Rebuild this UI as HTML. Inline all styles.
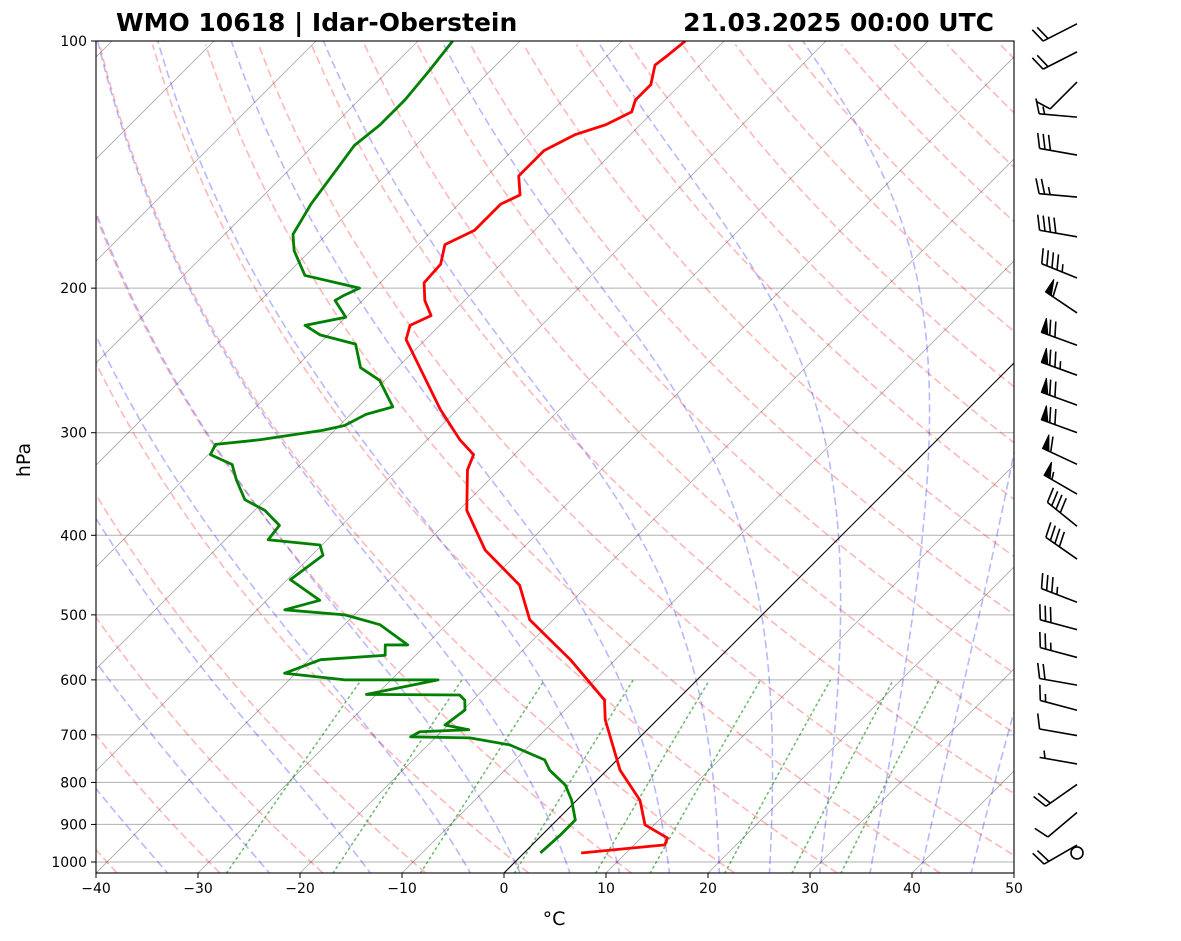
<!DOCTYPE html>
<html><head><meta charset="utf-8"><title>Skew-T WMO 10618</title>
<style>
html,body{margin:0;padding:0;background:#fff;}
svg{display:block;font-family:"DejaVu Sans","Liberation Sans",sans-serif;}
</style></head>
<body>
<svg id="chart" xmlns="http://www.w3.org/2000/svg" width="1181" height="941" viewBox="0 0 1181 941">
  <defs><clipPath id="plotclip"><rect x="96" y="41" width="918" height="832"/></clipPath></defs>
  <rect x="0" y="0" width="1181" height="941" fill="#fff"/>
  <g id="bg-lines" clip-path="url(#plotclip)"></g>
  <g id="profiles" clip-path="url(#plotclip)"></g>
  <rect x="96" y="41" width="918" height="832" fill="none" stroke="#000" stroke-width="1.1"/>
  <g id="axes"></g>
  <g id="barbs"></g>
  <text x="116" y="31" font-size="25" font-weight="bold">WMO 10618 | Idar-Oberstein</text>
  <text x="994" y="31" font-size="25" font-weight="bold" text-anchor="end">21.03.2025 00:00 UTC</text>
  <text x="30" y="460" font-size="19" text-anchor="middle" transform="rotate(-90 30 460)">hPa</text>
  <text x="554" y="925" font-size="19" text-anchor="middle">°C</text>
</svg>
<script>
// ---- data ----
const tempP = [975,953,935,901,841,773,671,635,567,507,460,417,373,333,319,306,281,231,222,216,207,197,187,177,170,158,154,146,136,130,126.5,122,118,113,107,104,100];
const tempT = [5.6,13.0,12.6,9.1,6.2,1.3,-5.1,-7.1,-14.4,-22.3,-26.7,-33.5,-39.2,-43.1,-44.0,-46.8,-51.7,-61.9,-62.9,-61.8,-63.9,-65.7,-65.9,-67.4,-65.9,-65.9,-64.9,-66.9,-66.9,-65.4,-63.4,-62.1,-62.9,-62.9,-64.4,-64.1,-63.8];
const dewP = [975,927,889,841,806,773,751,720,706,704,694,690,681,653,635,626,625,600,600,589,567,560,544,544,514,500,493,480,453,423,411,405,389,373,362,343,328,319,310,306,298,294,285,279,259,250,234,228,222,217,207,204,200,193,180,172,158,141.6,134,126.5,118,108.5,100];
const dewT = [1.6,1.8,1.8,-0.5,-2.6,-5.6,-7.1,-12,-16.6,-22.5,-22.1,-17.5,-20.3,-19.8,-20.8,-21.8,-31,-25.4,-34.5,-41.1,-38.9,-33,-34,-31.8,-36.5,-40.9,-47.3,-44.8,-49.7,-48.9,-50.2,-55.8,-56.1,-59,-62,-64.7,-66.7,-69.8,-70.3,-66.4,-61.2,-59.5,-58.5,-56.6,-60.5,-63.6,-66.4,-70.8,-73.2,-70,-72.7,-72.3,-71.5,-78.1,-81.6,-83.3,-84.5,-85.5,-86,-85.5,-85.5,-86,-86.6];
const windP = [95.3,103.1,112.2,123.8,137.7,154.9,173.2,194.4,214.4,234.7,255.3,277.7,299.9,327.8,356.3,390,427.6,482.7,521.2,563.4,608.9,653.4,701.5,759.6,804.5,870.5,953.6,975];
const windSpd = [20,20,10,15,30,25,40,45,60,70,75,70,70,60,55,40,40,35,30,25,20,15,10,5,20,10,20,0];
const windDir = [243,243,225,275,280,275,280,292,304,290,290,290,290,295,300,309,305,291,285,285,280,285,280,280,235,230,240,0];
const pTicks = [100,200,300,400,500,600,700,800,900,1000];
const tTicks = [-40,-30,-20,-10,0,10,20,30,40,50];
const mixRatios = [0.0004,0.001,0.002,0.004,0.007,0.01,0.016,0.024,0.032];
const moistT0 = [-45,-35,-25,-15,-5,0,5,10,15,20,25,30,35,40,45];

// ---- axis functions ----
const NS = "http://www.w3.org/2000/svg";
const PBOT = 1031;
function Y(p){ return 41 + 821*Math.log10(p/100); }
function X(t,p){ return 96 + (t+40)*10.2 + (873 - Y(p)); }
function mk(tag, attrs, parent){
  const e = document.createElementNS(NS, tag);
  for (const k in attrs) e.setAttribute(k, attrs[k]);
  parent.appendChild(e); return e;
}
function pathFrom(pts){ return pts.map((q,i)=>(i?'L':'M')+q[0].toFixed(2)+' '+q[1].toFixed(2)).join(''); }
const bg = document.getElementById('bg-lines');
const prof = document.getElementById('profiles');
const ax = document.getElementById('axes');
const bb = document.getElementById('barbs');

pTicks.forEach(p=>{
  const l = mk('line',{x1:96,x2:1014,y1:Y(p),y2:Y(p),stroke:'#b0b0b0','stroke-width':1},bg);
  
  
});
for (let t=-130; t<=50; t+=10){
  const l = mk('line',{x1:X(t,PBOT),y1:Y(PBOT),x2:X(t,100),y2:Y(100),stroke:'#000','stroke-opacity':0.35,'stroke-width':0.8},bg);
  
  
}
for (let th=-40; th<=200; th+=10){
  const pts=[];
  for (let p=PBOT; p>=100; p-=10){ const T=(th+273.15)*Math.pow(p/1000,0.2857)-273.15; pts.push([X(T,p),Y(p)]); }
  const l = mk('path',{d:pathFrom(pts),fill:'none',stroke:'#ff0000','stroke-opacity':0.28,'stroke-width':1.6,'stroke-dasharray':'8,4'},bg);
  
  
}
function es(tc){ return 6.112*Math.exp(17.67*tc/(tc+243.5)); }
function dTdp(T,p){
  const Rd=287.04,Cp=1005.7,Lv=2.501e6,eps=0.622;
  const e=es(T-273.15); const rs=eps*e/(p-e);
  return (Rd*T + Lv*rs)/(Cp + Lv*Lv*rs*eps/(Rd*T*T))/p;
}
function integ(T0,p0,p1,dp){
  const out=[]; let T=T0, p=p0; out.push([p,T]);
  const n=Math.round(Math.abs(p1-p0)/Math.abs(dp));
  for(let i=0;i<n;i++){
    const k1=dTdp(T,p); const k2=dTdp(T+k1*dp/2,p+dp/2);
    T+=k2*dp; p+=dp; out.push([p,T]);
  }
  return out;
}
moistT0.forEach(t0=>{
  const up=integ(t0+273.15,1000,100,-2);
  const dn=integ(t0+273.15,1000,1040,2);
  const all=dn.reverse().concat(up.slice(1));
  const pts=all.map(a=>[X(a[1]-273.15,a[0]),Y(a[0])]);
  const l = mk('path',{d:pathFrom(pts),fill:'none',stroke:'#0000ff','stroke-opacity':0.28,'stroke-width':1.6,'stroke-dasharray':'8,4'},bg);
  
  
});
mixRatios.forEach(w=>{
  const pts=[];
  for (let p=PBOT; p>=600; p-=10){
    const e=p*w/(0.622+w); const lg=Math.log(e/6.112);
    const td=243.5*lg/(17.67-lg); pts.push([X(td,p),Y(p)]);
  }
  const l = mk('path',{d:pathFrom(pts),fill:'none',stroke:'#008000','stroke-opacity':0.55,'stroke-width':1.6,'stroke-dasharray':'1.6,4','stroke-linecap':'round'},bg);
  
  
});
const z = mk('line',{x1:X(0,PBOT),y1:Y(PBOT),x2:X(0,100),y2:Y(100),stroke:'#000','stroke-width':1},bg);



const tl = mk('path',{d:pathFrom(tempP.map((p,i)=>[X(tempT[i],p),Y(p)])),fill:'none',stroke:'#ff0000','stroke-width':2.8,'stroke-linejoin':'round'},prof);


const dl = mk('path',{d:pathFrom(dewP.map((p,i)=>[X(dewT[i],p),Y(p)])),fill:'none',stroke:'#008000','stroke-width':2.8,'stroke-linejoin':'round'},prof);



pTicks.forEach(p=>{
  mk('line',{x1:91,x2:96,y1:Y(p),y2:Y(p),stroke:'#000','stroke-width':1},ax);
  const t = mk('text',{x:87,y:Y(p)+5,'font-size':14,'text-anchor':'end'},ax);
  t.textContent=p;
  
  
});
tTicks.forEach(v=>{
  const x=96+(v+40)*10.2;
  mk('line',{x1:x,x2:x,y1:873,y2:878,stroke:'#000','stroke-width':1},ax);
  const t = mk('text',{x:x,y:893,'font-size':14,'text-anchor':'middle'},ax);
  t.textContent = v<0 ? '\u2212'+Math.abs(v) : String(v);
  
  
});

const BX=1077, L=38, BL=15, SP=5.5, FW=7;
windP.forEach((p,i)=>{
  const by=Y(p), spd=windSpd[i], d=windDir[i]*Math.PI/180;
  const g = mk('g',{},bb);
  
  
  if (spd<2.5){ mk('circle',{cx:BX,cy:by,r:6,fill:'none',stroke:'#000','stroke-width':1.6},g); return; }
  const sx=Math.sin(d), sy=-Math.cos(d);
  const px=-sy, py=sx;
  const tx=BX+sx*L, ty=by+sy*L;
  mk('line',{x1:BX,y1:by,x2:tx,y2:ty,stroke:'#000','stroke-width':1.6},g);
  let r=Math.round(spd/5)*5, pos=0;
  const lean=0.3;
  while(r>=50){
    const ax0=tx-sx*pos, ay0=ty-sy*pos;
    const bx0=ax0-sx*FW, by0=ay0-sy*FW;
    const cx0=ax0+px*BL, cy0=ay0+py*BL;
    mk('polygon',{points:`${ax0},${ay0} ${bx0},${by0} ${cx0},${cy0}`,fill:'#000',stroke:'#000','stroke-width':1},g);
    pos+=FW+2; r-=50;
  }
  while(r>=10){
    const ax0=tx-sx*pos, ay0=ty-sy*pos;
    mk('line',{x1:ax0,y1:ay0,x2:ax0+px*BL+sx*BL*lean,y2:ay0+py*BL+sy*BL*lean,stroke:'#000','stroke-width':1.6},g);
    pos+=SP; r-=10;
  }
  if(r>=5){
    if(pos===0) pos=SP;
    const ax0=tx-sx*pos, ay0=ty-sy*pos;
    mk('line',{x1:ax0,y1:ay0,x2:ax0+px*BL*0.5+sx*BL*0.5*lean,y2:ay0+py*BL*0.5+sy*BL*0.5*lean,stroke:'#000','stroke-width':1.6},g);
  }
});
</script>
</body></html>
